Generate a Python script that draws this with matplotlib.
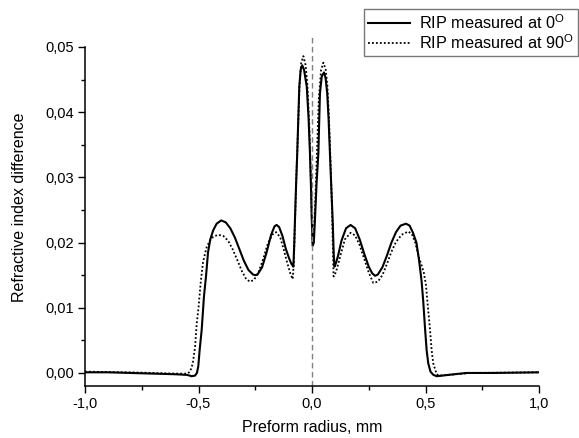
import matplotlib
matplotlib.use("Agg")
import matplotlib.pyplot as plt
from matplotlib.ticker import FuncFormatter, MultipleLocator

plt.rcParams['font.family'] = ['Liberation Sans', 'DejaVu Sans']
plt.rcParams['mathtext.fontset'] = 'custom'
plt.rcParams['mathtext.rm'] = 'Liberation Sans'

# RIP measured at 0 degrees (solid)
x0 = [-1.00, -0.90, -0.80, -0.70, -0.60, -0.55, -0.53, -0.515, -0.507, -0.501,
      -0.495, -0.486, -0.476, -0.467, -0.458, -0.448, -0.435, -0.42, -0.40, -0.38,
      -0.36, -0.34, -0.32, -0.30, -0.28, -0.26, -0.25, -0.24, -0.22, -0.20,
      -0.18, -0.165, -0.156, -0.145, -0.13, -0.115, -0.10, -0.09, -0.082, -0.078,
      -0.075, -0.07, -0.065, -0.056, -0.05, -0.043, -0.035, -0.023, -0.015, -0.009,
      -0.004, -0.001, 0.003, 0.008, 0.013, 0.020, 0.028, 0.035, 0.043, 0.053,
      0.060, 0.067, 0.073, 0.079, 0.085, 0.091, 0.096, 0.099, 0.105, 0.115,
      0.13, 0.15, 0.17, 0.19, 0.21, 0.23, 0.25, 0.265, 0.278, 0.29,
      0.31, 0.33, 0.35, 0.37, 0.39, 0.414, 0.43, 0.445, 0.46, 0.472,
      0.483, 0.49, 0.498, 0.505, 0.512, 0.522, 0.535, 0.55, 0.60, 0.68,
      0.80, 1.00]
y0 = [0.0001, 0.0001, 0.0000, -0.0001, -0.0002, -0.0003, -0.0005, -0.0004, 0.0000, 0.0010,
      0.0035, 0.0066, 0.0117, 0.0148, 0.0185, 0.0205, 0.0219, 0.0229, 0.0234, 0.0231,
      0.0222, 0.0208, 0.0190, 0.0172, 0.0158, 0.0151, 0.0150, 0.0151, 0.0162, 0.0185,
      0.0212, 0.0225, 0.0227, 0.0224, 0.0210, 0.0190, 0.0175, 0.0167, 0.0163, 0.0200,
      0.0235, 0.0290, 0.0337, 0.0439, 0.0465, 0.0472, 0.0465, 0.0439, 0.0390, 0.0337,
      0.0280, 0.0235, 0.0195, 0.0200, 0.0235, 0.0290, 0.0337, 0.0429, 0.0455, 0.0461,
      0.0452, 0.0429, 0.0390, 0.0337, 0.0285, 0.0235, 0.0180, 0.0163, 0.0168, 0.0180,
      0.0203, 0.0222, 0.0227, 0.0222, 0.0205, 0.0183, 0.0163, 0.0153, 0.0149, 0.0151,
      0.0162, 0.0180, 0.0200, 0.0216, 0.0226, 0.0229, 0.0226, 0.0215, 0.0200, 0.0172,
      0.0140, 0.0110, 0.0068, 0.0035, 0.0015, 0.0002, -0.0003, -0.0005, -0.0003, 0.0000,
      0.0000, 0.0001]

# RIP measured at 90 degrees (dotted)
x90 = [-1.00, -0.80, -0.60, -0.55, -0.537, -0.525, -0.515, -0.508, -0.50, -0.49,
       -0.48, -0.465, -0.45, -0.435, -0.413, -0.39, -0.37, -0.35, -0.33, -0.31,
       -0.29, -0.273, -0.255, -0.235, -0.215, -0.195, -0.175, -0.158, -0.14, -0.125,
       -0.11, -0.095, -0.085, -0.080, -0.076, -0.07, -0.062, -0.055, -0.048, -0.038,
       -0.028, -0.020, -0.012, -0.006, -0.001, 0.003, 0.008, 0.014, 0.022, 0.030,
       0.040, 0.050, 0.060, 0.068, 0.075, 0.081, 0.087, 0.092, 0.095, 0.100,
       0.11, 0.125, 0.145, 0.17, 0.19, 0.21, 0.23, 0.25, 0.27, 0.29,
       0.31, 0.33, 0.35, 0.37, 0.395, 0.424, 0.44, 0.455, 0.47, 0.48,
       0.492, 0.502, 0.511, 0.520, 0.527, 0.534, 0.549, 0.56, 0.60, 0.70,
       1.00]
y90 = [0.0002, 0.0001, -0.0001, -0.0001, 0.0002, 0.0015, 0.0040, 0.0075, 0.0100, 0.0140,
       0.0170, 0.0192, 0.0203, 0.0209, 0.0212, 0.0210, 0.0203, 0.0190, 0.0174, 0.0157,
       0.0144, 0.0140, 0.0143, 0.0155, 0.0175, 0.0198, 0.0212, 0.0216, 0.0208, 0.0190,
       0.0170, 0.0152, 0.0144, 0.0170, 0.0220, 0.0290, 0.0370, 0.0440, 0.0475, 0.0486,
       0.0472, 0.0440, 0.0380, 0.0310, 0.0240, 0.0198, 0.0215, 0.0260, 0.0340, 0.0420,
       0.0465, 0.0476, 0.0466, 0.0440, 0.0390, 0.0330, 0.0265, 0.0190, 0.0148, 0.0150,
       0.0160, 0.0180, 0.0205, 0.0215, 0.0211, 0.0196, 0.0175, 0.0154, 0.0138, 0.0140,
       0.0150, 0.0167, 0.0186, 0.0201, 0.0212, 0.0217, 0.0213, 0.0200, 0.0178, 0.0168,
       0.0155, 0.0135, 0.0100, 0.0066, 0.0035, 0.0015, -0.0002, -0.0004, -0.0003, 0.0000,
       0.0001]

labels = ["RIP measured at 0$^{\\mathrm{O}}$", "RIP measured at 90$^{\\mathrm{O}}$"]
x_ticks = [-1.0, -0.5, 0.0, 0.5, 1.0]
y_ticks = [0.00, 0.01, 0.02, 0.03, 0.04, 0.05]

fig = plt.figure(figsize=(5.79, 4.38), dpi=100)
ax = fig.add_axes([85/579, 52/438, 454/579, 339/438])

ax.plot(x0, y0, color='black', lw=1.5, label=labels[0])
ax.plot(x90, y90, color='black', lw=1.3, linestyle=(0, (1, 1.2)), label=labels[1])
ax.plot([0, 0], [-0.002, 0.052], color='#808080', lw=1.0, linestyle=(0, (4, 2.5)),
        clip_on=False)

ax.set_xlim(-1.0, 1.0)
ax.set_ylim(-0.002, 0.05)
ax.set_xticks(x_ticks)
ax.set_yticks(y_ticks)
ax.xaxis.set_minor_locator(MultipleLocator(0.25))
ax.yaxis.set_minor_locator(MultipleLocator(0.005))
ax.xaxis.set_major_formatter(FuncFormatter(lambda v, p: f"{v:.1f}".replace('.', ',')))
ax.yaxis.set_major_formatter(FuncFormatter(lambda v, p: f"{v:.2f}".replace('.', ',')))

for s in ['top', 'right']:
    ax.spines[s].set_visible(False)
for s in ['left', 'bottom']:
    ax.spines[s].set_linewidth(1.1)
ax.tick_params(which='major', direction='out', length=5, width=1.0, labelsize=10.5, pad=3.0)
ax.tick_params(which='minor', direction='out', length=3, width=1.0)

fig.text(312/579, 6/438, "Preform radius, mm", ha='center', va='baseline', fontsize=11.5)
fig.text(19.5/579, 1 - 207.5/438, "Refractive index difference", ha='center', va='center',
         rotation=90, fontsize=11.5)

leg = fig.legend(loc='upper right', bbox_to_anchor=(578/579, 1 - 9/438),
                 bbox_transform=fig.transFigure, fontsize=11.7, frameon=True,
                 fancybox=False, handlelength=2.6, handletextpad=0.55,
                 borderpad=0.25, labelspacing=0.08, borderaxespad=0)
leg.get_frame().set_edgecolor('#555555')
leg.get_frame().set_linewidth(1.0)

fig.savefig("out.png", dpi=100)
